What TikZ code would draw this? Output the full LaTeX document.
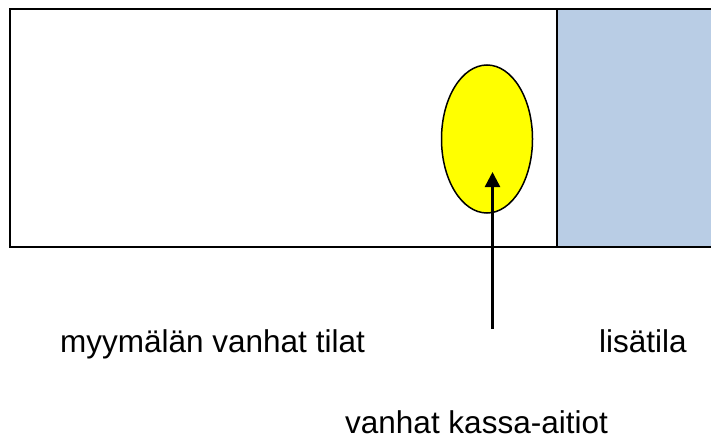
\documentclass[tikz,border=0pt]{standalone}
\usepackage{fontspec}
\setmainfont{Liberation Sans}
\usepackage{xcolor}
\usetikzlibrary{arrows.meta,positioning,shapes.geometric}
\definecolor{ExtraBlue}{HTML}{B9CDE5}
\definecolor{TillYellow}{HTML}{FFFF00}
\tikzset{
  wall/.style={draw=black,line width=2pt},
  room/.style={rectangle,draw=none,inner sep=0pt,minimum width=547pt,minimum height=238pt},
  extraroom/.style={rectangle,draw=none,fill=ExtraBlue,inner sep=0pt,minimum width=154pt,minimum height=238pt},
  till/.style={ellipse,draw=black,line width=1.5pt,fill=TillYellow,inner sep=0pt,
               minimum width=91pt,minimum height=148pt},
  tag/.style={inner sep=0pt,font=\fontsize{31.5}{36}\selectfont},
  pointer/.style={-{Triangle[length=15pt,width=15pt]},line width=2.5pt,draw=black}
}
\begin{document}
\begin{tikzpicture}[x=1pt,y=-1pt]
  \useasboundingbox (0,0) rectangle (711,439);
  \node[room,anchor=north west] (old) at (10,9) {};
  \node[extraroom,anchor=north west] (extra) at (old.north east) {};
  \draw[wall] (extra.north east) -- (old.north west) -- (old.south west) -- (extra.south east);
  \draw[wall] (old.north east) -- (old.south east);
  \node[till] (till) at (487,139) {};

  \node[tag,anchor=base west] (oldname) at (60,352) {myymälän vanhat tilat};
  \node[tag,anchor=base west] (extraname) at (599,352) {lisätila};
  \node[tag,anchor=base west] (tillname) at (345,433) {vanhat kassa-aitiot};

  \coordinate (tail) at (492.5,329);
  \coordinate (tip) at (492.5,172);
  \draw[pointer] (tail) -- (tip);
\end{tikzpicture}
\end{document}
